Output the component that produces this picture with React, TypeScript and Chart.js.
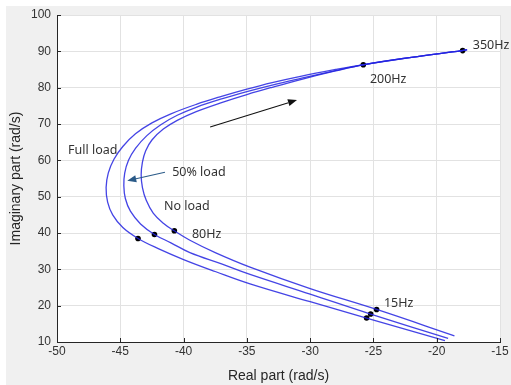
import React, { useEffect, useRef } from "react";
import { Chart, registerables } from "chart.js";

Chart.register(...registerables);

// Full load locus (real, imaginary)
const fullReal = [-17.6, -18, -22, -25.8, -28, -30.67, -33, -35, -37, -39, -41, -42.5, -43.8, -44.8, -45.5, -45.95, -46.12, -46.0, -45.6, -44.8, -43.6, -42, -40, -37.5, -34.75, -30, -25.54, -19.35];
const fullImag = [90.45, 90.2, 88.35, 86.35, 85.0, 83.2, 81.4, 79.6, 77.6, 75.4, 72.8, 70.3, 67.3, 63.8, 60.3, 56.5, 52.5, 48.5, 45.0, 41.5, 38.5, 35.7, 32.7, 29.4, 26.0, 21.1, 16.6, 10.4];
// 50% load locus
const halfReal = [-17.6, -18, -22, -25.8, -28, -30.67, -33, -35, -37, -39, -40.5, -41.8, -42.9, -43.8, -44.35, -44.65, -44.72, -44.6, -44.2, -43.4, -42.3, -41, -39.5, -37, -34.75, -30, -25.22, -19.1];
const halfImag = [90.45, 90.2, 88.35, 86.3, 84.7, 82.6, 80.7, 78.9, 76.9, 74.6, 72.4, 69.8, 66.8, 63.3, 60.0, 56.5, 53.0, 49.5, 46.0, 42.5, 39.6, 37.3, 34.6, 31.5, 28.6, 23.2, 17.7, 11.0];
// No load locus
const noReal = [-17.6, -18, -22, -25.8, -28, -30.67, -33, -35, -37, -39, -40.5, -41.6, -42.5, -43.0, -43.25, -43.35, -43.25, -42.95, -42.4, -41.6, -40.73, -39.5, -37.5, -34.75, -30, -24.75, -18.6];
const noImag = [90.45, 90.2, 88.35, 86.3, 84.6, 82.3, 80.1, 78.1, 75.9, 73.4, 71.0, 68.6, 65.6, 62.6, 59.5, 56.0, 52.5, 49.0, 45.5, 42.7, 40.6, 38.0, 34.6, 30.6, 24.7, 18.95, 11.7];

// Marked frequency points
const markReal = [-17.95, -25.8, -43.6, -42.3, -40.73, -24.75, -25.22, -25.54];
const markImag = [90.2, 86.3, 38.5, 39.6, 40.6, 18.95, 17.7, 16.6];

// Annotations (text, x, y in data units)
const labelTexts = ["350Hz", "200Hz", "Full load", "50% load", "No load", "80Hz", "15Hz"];
const labelReal = [-17.15, -25.28, -49.13, -40.9, -41.55, -39.34, -24.17];
const labelImag = [91.5, 82.4, 62.85, 56.8, 47.2, 39.7, 20.7];

// Arrows (start -> end, data units)
const arrowFromReal = [-37.9, -41.47];
const arrowFromImag = [69.2, 56.7];
const arrowToReal = [-31.04, -44.45];
const arrowToImag = [76.6, 54.4];
const arrowColors = ["#111111", "#2a5a88"];

const xTitle = "Real part (rad/s)";
const yTitle = "Imaginary part (rad/s)";

const toPts = (xs: number[], ys: number[]) => xs.map((x, i) => ({ x, y: ys[i] }));

const TICK_FONT = "'Liberation Sans', Arial, sans-serif";
const ANN_FONT = "'Noto Sans', 'Liberation Sans', sans-serif";

export default function App() {
  const ref = useRef<HTMLCanvasElement | null>(null);

  useEffect(() => {
    if (!ref.current) return;
    const lineColor = "rgba(35,35,225,0.85)";
    const curve = (data: any) => ({
      data,
      showLine: true,
      borderColor: lineColor,
      borderWidth: 1.3,
      pointRadius: 0,
      tension: 0.4,
      fill: false,
    });

    const decor = {
      id: "decor",
      beforeDraw(chart: any) {
        const c = chart.ctx;
        const { left, right, top, bottom } = chart.chartArea;
        c.save();
        c.fillStyle = "#ffffff";
        c.fillRect(0, 0, chart.width, chart.height);
        c.fillStyle = "#f0f0f0";
        c.fillRect(6, 6, chart.width - 6, chart.height - 6);
        c.fillStyle = "#ffffff";
        c.fillRect(left, top, right - left, bottom - top);
        c.restore();
      },
      afterDraw(chart: any) {
        const c = chart.ctx;
        const xs = chart.scales.x;
        const ys = chart.scales.y;
        const { left, right, top, bottom } = chart.chartArea;
        c.save();
        // inward tick marks
        c.strokeStyle = "#262626";
        c.lineWidth = 1;
        xs.ticks.forEach((t: any) => {
          const px = Math.round(xs.getPixelForValue(t.value)) + 0.5;
          c.beginPath();
          c.moveTo(px, bottom);
          c.lineTo(px, bottom - 4);
          c.stroke();
        });
        ys.ticks.forEach((t: any) => {
          const py = Math.round(ys.getPixelForValue(t.value)) + 0.5;
          c.beginPath();
          c.moveTo(left, py);
          c.lineTo(left + 4, py);
          c.stroke();
        });
        // arrows
        arrowFromReal.forEach((_, i) => {
          const x1 = xs.getPixelForValue(arrowFromReal[i]);
          const y1 = ys.getPixelForValue(arrowFromImag[i]);
          const x2 = xs.getPixelForValue(arrowToReal[i]);
          const y2 = ys.getPixelForValue(arrowToImag[i]);
          const ang = Math.atan2(y2 - y1, x2 - x1);
          const hl = 9, hw = 3.5;
          c.strokeStyle = arrowColors[i];
          c.fillStyle = arrowColors[i];
          c.lineWidth = 1.1;
          c.beginPath();
          c.moveTo(x1, y1);
          c.lineTo(x2 - hl * Math.cos(ang), y2 - hl * Math.sin(ang));
          c.stroke();
          c.beginPath();
          c.moveTo(x2, y2);
          c.lineTo(x2 - hl * Math.cos(ang) + hw * Math.sin(ang), y2 - hl * Math.sin(ang) - hw * Math.cos(ang));
          c.lineTo(x2 - hl * Math.cos(ang) - hw * Math.sin(ang), y2 - hl * Math.sin(ang) + hw * Math.cos(ang));
          c.closePath();
          c.fill();
        });
        // text labels
        c.fillStyle = "#333333";
        c.font = `12.5px ${ANN_FONT}`;
        c.textAlign = "left";
        c.textBaseline = "middle";
        labelTexts.forEach((t, i) => {
          c.fillText(t, xs.getPixelForValue(labelReal[i]), ys.getPixelForValue(labelImag[i]));
        });
        // axis titles
        c.fillStyle = "#262626";
        c.font = `14px ${TICK_FONT}`;
        c.textAlign = "center";
        c.fillText(xTitle, (left + right) / 2, 376);
        c.translate(16.5, (top + bottom) / 2);
        c.rotate(-Math.PI / 2);
        c.fillText(yTitle, 0, 0);
        c.restore();
      },
    };

    const chart = new Chart(ref.current, {
      type: "scatter",
      data: {
        datasets: [
          curve(toPts(fullReal, fullImag)),
          curve(toPts(halfReal, halfImag)),
          curve(toPts(noReal, noImag)),
          {
            data: toPts(markReal, markImag),
            pointRadius: 2.8,
            pointBackgroundColor: "#000000",
            pointBorderColor: "#000000",
            pointBorderWidth: 0,
            showLine: false,
          } as any,
        ],
      },
      options: {
        responsive: false,
        animation: false,
        devicePixelRatio: 1,
        layout: { padding: { left: 0, right: 11, top: 15, bottom: 0 } },
        plugins: { legend: { display: false }, tooltip: { enabled: false } },
        scales: {
          x: {
            type: "linear",
            min: -50,
            max: -15,
            ticks: { stepSize: 5, color: "#333333", font: { family: TICK_FONT, size: 12 }, padding: 2 },
            grid: { color: "#e2e2e2", drawTicks: false, tickLength: 0 },
            border: { color: "#262626", width: 1 },
            afterFit: (s: any) => { s.height = 43; },
          },
          y: {
            type: "linear",
            min: 10,
            max: 100,
            ticks: { stepSize: 10, color: "#333333", font: { family: TICK_FONT, size: 12 }, padding: 6 },
            grid: { color: "#e2e2e2", drawTicks: false, tickLength: 0 },
            border: { color: "#262626", width: 1 },
            afterFit: (s: any) => { s.width = 57; },
          },
        },
      },
      plugins: [decor],
    });
    return () => chart.destroy();
  }, []);

  return (
    <div style={{ position: "fixed", left: 0, top: 0, width: 511, height: 385 }}>
      <canvas ref={ref} width={511} height={385} style={{ width: 511, height: 385, display: "block" }} />
    </div>
  );
}
